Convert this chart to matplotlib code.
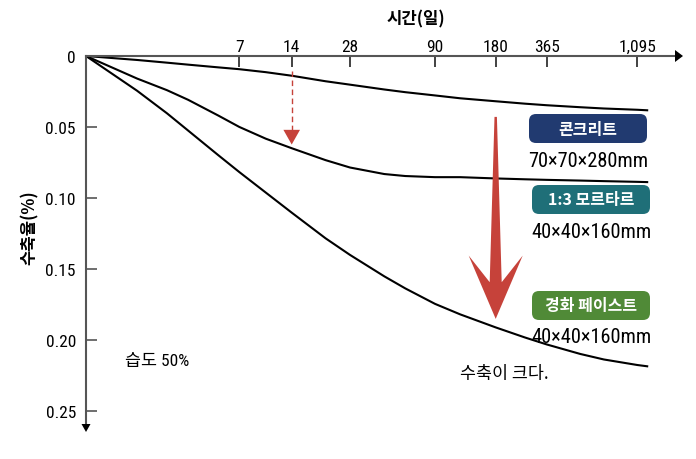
import numpy as np
import matplotlib
matplotlib.use('Agg')
import matplotlib.pyplot as plt
from matplotlib import font_manager as fm
from matplotlib.patches import FancyBboxPatch, Polygon
from matplotlib.transforms import ScaledTranslation

# --- data (days vs. shrinkage %) ---
DAYS = [0, 1, 2, 3, 5, 7, 10, 14, 21, 28, 45, 60, 90, 120, 180, 270, 365, 548, 730, 1095, 1250]
CONCRETE = [0, 0.0028, 0.0047, 0.0061, 0.0080, 0.0093, 0.0114, 0.0139, 0.0178, 0.0202, 0.0236,
            0.0255, 0.0278, 0.0298, 0.0319, 0.0336, 0.0347, 0.0361, 0.0370, 0.0379, 0.0383]
MORTAR = [0, 0.0159, 0.0241, 0.0309, 0.0419, 0.0500, 0.0583, 0.0650, 0.0734, 0.0786, 0.0832,
          0.0846, 0.0854, 0.0854, 0.0863, 0.0869, 0.0873, 0.0878, 0.0882, 0.0887, 0.0889]
PASTE = [0, 0.0245, 0.0404, 0.0526, 0.0698, 0.0818, 0.0963, 0.1104, 0.1285, 0.1402, 0.1553,
         0.1638, 0.1747, 0.1821, 0.1913, 0.1984, 0.2033, 0.2100, 0.2139, 0.2178, 0.2188]

X_TICKS = [7, 14, 28, 90, 180, 365, 1095]
X_LABELS = ['7', '14', '28', '90', '180', '365', '1,095']
Y_TICKS = [0, 0.05, 0.10, 0.15, 0.20, 0.25]
Y_LABELS = ['0', '0.05', '0.10', '0.15', '0.20', '0.25']

ARROW14 = (14, 0.0104, 0.0624)     # day, dashed start, tip
BIG_ARROW = (180, 0.1853)          # day, tip

# hand-drawn time axis: roughly log(t+1), pinned at the tick marks
SCALE_DAYS = np.array([0, 7, 14, 28, 90, 180, 365, 1095, 2000])
SCALE_PX = np.array([0, 153.3, 205.7, 264, 349, 409.7, 460.7, 551.3, 601])
SCALE_U = np.log10(SCALE_DAYS + 1)


def fwd(t):
    t = np.asarray(t, dtype=float)
    return np.interp(np.log10(np.maximum(t, 0) + 1), SCALE_U, SCALE_PX)


def inv(p):
    p = np.asarray(p, dtype=float)
    return 10 ** np.interp(p, SCALE_PX, SCALE_U) - 1


# narrow latin font for the numbers
names = {f.name for f in fm.fontManager.ttflist}
narrow = 'Roboto Condensed' if 'Roboto Condensed' in names else 'Liberation Sans'

W, H = 696, 460
KR = ['Noto Sans CJK KR', 'DejaVu Sans']
NUM = [narrow, 'Noto Sans CJK KR', 'DejaVu Sans']

fig = plt.figure(figsize=(W / 100, H / 100), dpi=100)
ax = fig.add_axes([86 / W, (H - 425) / H, 589 / W, 368 / H])
ax.set_xscale('function', functions=(fwd, inv))
ax.set_xlim(0, float(inv(589)))
ax.set_ylim((425 - 57.3) / 1417.6, 0)

for ys in (CONCRETE, MORTAR, PASTE):
    ax.plot(DAYS, ys, color='black', lw=1.5, solid_capstyle='butt')

for s in ('right', 'bottom'):
    ax.spines[s].set_visible(False)
for s in ('top', 'left'):
    ax.spines[s].set_color('#555555')
    ax.spines[s].set_linewidth(1.5)

ax.xaxis.tick_top()
ax.set_xticks(X_TICKS)
ax.set_xticklabels(X_LABELS, family=NUM, fontsize=12.5)
ax.xaxis.set_minor_locator(matplotlib.ticker.NullLocator())
ax.set_yticks(Y_TICKS)
ax.set_yticklabels(Y_LABELS, family=NUM, fontsize=12.5)
ax.tick_params(axis='x', direction='in', length=7.6, width=1.2, color='#222222', pad=1.5)
ax.tick_params(axis='y', direction='in', length=7.7, width=1.2, color='#555555', pad=7.2)


def px_poly(x, y, trans, verts_px, **kw):
    t = fig.dpi_scale_trans + ScaledTranslation(x, y, trans)
    v = np.array(verts_px, dtype=float) / fig.dpi
    p = Polygon(v, closed=True, transform=t, clip_on=False, **kw)
    fig.add_artist(p)


# axis arrowheads
px_poly(1, 1, ax.transAxes, [(0, 6), (8, 0), (0, -6)], fc='black', ec='none')
px_poly(0, 0, ax.transAxes, [(-4.5, 0), (4.5, 0), (0, -8)], fc='black', ec='none')

red = '#c6423a'
# small dashed arrow at 14 days
d, y0, y1 = ARROW14
ax.plot([d, d], [y0, y1 - 14.7 / 1417.6], color=red, lw=1, ls=(0, (4, 2.5)))
px_poly(d, y1, ax.transData, [(0, 0), (-8.3, 14.7), (8.3, 14.7)], fc=red, ec='none')

# big arrow
d, y1 = BIG_ARROW
px_poly(d, y1, ax.transData,
        [(-1.2, 202), (1.2, 202), (6, 36.7), (27, 63.3), (0, 0), (-27, 63.3), (-6, 36.7)],
        fc=red, ec='none')


def fx(x):
    return x / W


def fy(y):
    return 1 - y / H


boxes = [('콘크리트', 529, 115, '#213a70'),
         ('1:3 모르타르', 532, 186, '#1f6f78'),
         ('경화 페이스트', 532, 292, '#508a37')]
for label, x0, y0, c in boxes:
    bx = FancyBboxPatch((x0 / 100, (H - y0 - 29) / 100), 118 / 100, 29 / 100,
                        boxstyle='round,pad=0,rounding_size=0.07',
                        transform=fig.dpi_scale_trans, fc=c, ec='none')
    fig.add_artist(bx)
    fig.text(fx(x0 + 59), fy(y0 + 14.5), label, color='white', fontsize=11.5,
             fontweight='bold', family=KR, ha='center', va='center')

dims = [('70×70×280mm', 588, 166.7), ('40×40×160mm', 591, 238), ('40×40×160mm', 592, 343)]
for s, x, y in dims:
    fig.text(fx(x), fy(y), s, fontsize=14.7, family=NUM, ha='center', va='baseline')

fig.text(fx(125), fy(366), '습도 50%', fontsize=12.5, family=NUM, ha='left', va='baseline')
fig.text(fx(460), fy(379), '수축이 크다.', fontsize=12.5, family=KR, ha='left', va='baseline')

fig.text(fx(416), fy(19), '시간(일)', fontsize=12, fontweight='bold', family=KR,
         ha='center', va='center')
fig.text(fx(30), fy(228), '수축율(%)', fontsize=12, fontweight='bold', family=KR,
         ha='center', va='center', rotation=90)

fig.savefig('out.png', dpi=100)
